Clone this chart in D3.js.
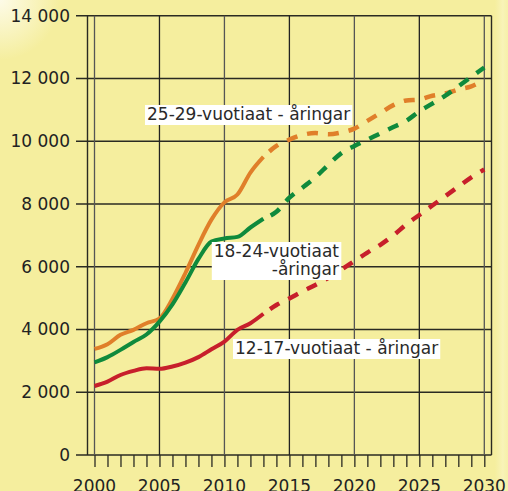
<!DOCTYPE html>
<html>
<head>
<meta charset="utf-8">
<script src="https://cdn.jsdelivr.net/npm/d3@7"></script>
<style>
  html, body { margin: 0; padding: 0; background: #f5ee9e; }
  svg { display: block; }
</style>
</head>
<body>
<div id="chart"></div>
<script>
// years on the x axis
const years = d3.range(2000, 2031);
const lastActual = 2013; // solid up to here, forecast dashed after

const age25to29 = [3380, 3530, 3830, 3990, 4200, 4350, 4980, 5800, 6700, 7500,
  8050, 8300, 9000, 9500, 9850, 10050, 10200, 10260, 10220, 10280,
  10400, 10650, 10900, 11150, 11300, 11330, 11450, 11520, 11650, 11750, 11950];
const age18to24 = [2950, 3120, 3350, 3600, 3840, 4250, 4800, 5500, 6250, 6800,
  6900, 6950, 7250, 7530, 7750, 8200, 8520, 8850, 9250, 9620,
  9850, 10050, 10250, 10450, 10650, 10950, 11200, 11450, 11750, 12050, 12350];
const age12to17 = [2200, 2340, 2550, 2680, 2765, 2745, 2820, 2945, 3120, 3370,
  3615, 3990, 4200, 4500, 4780, 4990, 5210, 5420, 5650, 5910,
  6180, 6450, 6700, 7000, 7350, 7650, 7950, 8250, 8550, 8850, 9100];

const yTicks = [0, 2000, 4000, 6000, 8000, 10000, 12000, 14000];
const xTicks = [2000, 2005, 2010, 2015, 2020, 2025, 2030];

const series = [
  {name: 'age25to29', values: age25to29, color: '#e07f2a'},
  {name: 'age18to24', values: age18to24, color: '#0f8a3c'},
  {name: 'age12to17', values: age12to17, color: '#c71f2b'},
];

const labels = [
  {lines: ['25-29-vuotiaat - åringar'], x: 147, y: 120, anchor: 'start'},
  {lines: ['18-24-vuotiaat', '-åringar'], x: 339, y: 257, anchor: 'end'},
  {lines: ['12-17-vuotiaat - åringar'], x: 235, y: 354, anchor: 'start'},
];

const width = 508;
const height = 491;
const font = 'DejaVu Sans, Verdana, sans-serif';

const svg = d3.select('#chart')
  .append('svg')
  .attr('width', width)
  .attr('height', height);

// background with the light glow in the corner
const defs = svg.append('defs');
const glow = defs.append('radialGradient')
  .attr('id', 'glow')
  .attr('cx', 0).attr('cy', 0).attr('r', 60)
  .attr('gradientUnits', 'userSpaceOnUse');
glow.append('stop').attr('offset', 0).attr('stop-color', '#fdfbe8');
glow.append('stop').attr('offset', 1).attr('stop-color', '#f5ee9e');
const edge = defs.append('linearGradient')
  .attr('id', 'edge')
  .attr('x1', 0).attr('x2', 1);
edge.append('stop').attr('offset', 0).attr('stop-color', '#f5ee9e');
edge.append('stop').attr('offset', 0.6).attr('stop-color', '#f8f3b8');
edge.append('stop').attr('offset', 1).attr('stop-color', '#f6f0a8');

svg.append('rect').attr('width', width).attr('height', height).attr('fill', '#f5ee9e');
svg.append('rect').attr('width', 80).attr('height', 80).attr('fill', 'url(#glow)');
svg.append('rect').attr('x', 495).attr('width', 13).attr('height', height).attr('fill', 'url(#edge)');

const x = d3.scaleLinear().domain([2000, 2030]).range([94.5, 484.3]);
const y = d3.scaleLinear().domain([0, 14000]).range([455, 15.7]);

const frameLeft = 87.5;
const frameRight = 491.5;
const tickLeft = 76;

// horizontal gridlines
svg.append('g')
  .selectAll('line')
  .data(yTicks)
  .join('line')
  .attr('x1', tickLeft)
  .attr('x2', frameRight)
  .attr('y1', (d) => y(d))
  .attr('y2', (d) => y(d))
  .attr('stroke', '#2a2a22')
  .attr('stroke-width', 1.4);

// vertical gridlines every 5 years
svg.append('g')
  .selectAll('line')
  .data(xTicks)
  .join('line')
  .attr('x1', (d) => x(d))
  .attr('x2', (d) => x(d))
  .attr('y1', y(14000))
  .attr('y2', y(0))
  .attr('stroke', (d, i) => (i % 2 ? '#222' : '#555'))
  .attr('stroke-width', 1.3);

// frame sides
svg.append('g')
  .selectAll('line')
  .data([frameLeft, frameRight])
  .join('line')
  .attr('x1', (d) => d)
  .attr('x2', (d) => d)
  .attr('y1', y(14000))
  .attr('y2', y(0))
  .attr('stroke', '#2a2a22')
  .attr('stroke-width', 1.4);

// x axis with yearly ticks below
const xAxis = svg.append('g')
  .attr('transform', `translate(0,${y(0)})`)
  .call(d3.axisBottom(x).tickValues(years).tickSize(12).tickFormat(''));
xAxis.select('.domain').remove();
xAxis.selectAll('.tick line').attr('stroke', '#2a2a22').attr('stroke-width', 1.3);

svg.append('g')
  .selectAll('text')
  .data(xTicks)
  .join('text')
  .attr('x', (d) => x(d))
  .attr('y', 492)
  .attr('text-anchor', 'middle')
  .attr('font-family', font)
  .attr('font-size', 17)
  .attr('fill', '#222')
  .text((d) => d);

// y tick labels
svg.append('g')
  .selectAll('text')
  .data(yTicks)
  .join('text')
  .attr('x', 70)
  .attr('y', (d) => y(d) + 6)
  .attr('text-anchor', 'end')
  .attr('font-family', font)
  .attr('font-size', 17)
  .attr('fill', '#222')
  .text((d) => d3.format(',')(d).replace(/,/g, ' '));

// the lines: solid actuals then dashed forecast
const line = d3.line()
  .curve(d3.curveMonotoneX)
  .x((d) => x(d.year))
  .y((d) => y(d.value));

const plot = svg.append('g');
series.forEach((s) => {
  const pts = years.map((year, i) => ({year, value: s.values[i]}));
  plot.append('path')
    .datum(pts.filter((d) => d.year <= lastActual))
    .attr('d', line)
    .attr('fill', 'none')
    .attr('stroke', s.color)
    .attr('stroke-width', 4)
    .attr('stroke-linejoin', 'round');
  plot.append('path')
    .datum(pts.filter((d) => d.year >= lastActual))
    .attr('d', line)
    .attr('fill', 'none')
    .attr('stroke', s.color)
    .attr('stroke-width', 4.5)
    .attr('stroke-dasharray', '11 10')
    .attr('stroke-dashoffset', -8);
});

// labels on white boxes
labels.forEach((l) => {
  const g = svg.append('g');
  const t = g.append('text')
    .attr('font-family', font)
    .attr('font-size', 17)
    .attr('fill', '#2a2a2a')
    .attr('text-anchor', l.anchor);
  l.lines.forEach((str, i) => {
    t.append('tspan')
      .attr('x', l.x)
      .attr('y', l.y + i * 18)
      .text(str);
  });
  const bb = t.node().getBBox();
  g.insert('rect', 'text')
    .attr('x', bb.x - 2)
    .attr('y', bb.y + 1)
    .attr('width', bb.width + 4)
    .attr('height', bb.height)
    .attr('fill', '#fff');
});
</script>
</body>
</html>
